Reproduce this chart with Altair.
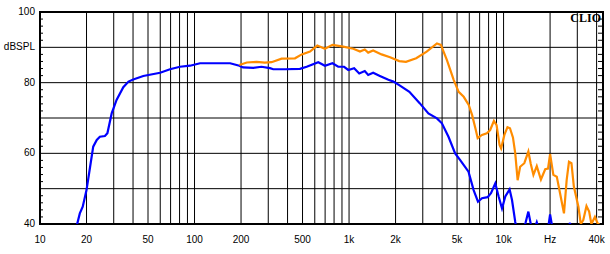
import altair as alt
import pandas as pd

# ---- data ----
blue_freq = [17.0, 17.4, 18.1, 18.9, 20, 21.1, 22.1, 23.3, 24.4, 26.3, 27.3, 29.1, 31.3, 34.6, 37.4,
             40.1, 46.6, 59.9, 69.4, 80.5, 93.5, 108.6, 170, 195, 206, 240, 271, 308, 323, 386,
             481, 532, 632, 698, 781, 851, 929, 989, 1079, 1164, 1264, 1330, 1432, 1583, 1797,
             1937, 2112, 2457, 2865, 3262, 3705, 3990, 4400, 4860, 5240, 5930, 6400, 6830, 7250,
             7880, 8290, 8840, 9290, 9770, 10260, 10940, 11340, 11900, 12300, 13300, 13900,
             14470, 15000, 15600, 16100, 16400, 16800, 17600, 19200, 19600, 20000, 20500, 21200,
             25500, 26900, 27800, 30000, 44000]
blue_db = [36, 40, 43.0, 44.9, 49.6, 56.2, 61.9, 63.8, 64.7, 64.9, 65.7, 71.3, 75.1, 78.7, 80.3,
           80.9, 81.9, 82.8, 83.8, 84.5, 84.8, 85.5, 85.5, 84.8, 84.3, 84.2, 84.5, 84.1, 83.8, 83.8,
           83.9, 84.5, 85.8, 84.8, 85.5, 84.5, 84.5, 83.6, 84.1, 82.6, 83.3, 82.2, 82.8, 81.9, 80.8,
           80.3, 79.3, 77.4, 74.2, 71.3, 69.9, 68.5, 64.7, 60.0, 58.1, 54.8, 49.6, 46.3, 47.3,
           47.6, 48.7, 51.5, 47.8, 44.4, 47.8, 49.8, 46.8, 40.6, 37, 37.5, 40.5,
           43.5, 40, 37, 39.5, 40.5, 39, 36, 37, 40, 42.7, 40, 36,
           37, 40.3, 37, 34, 34]

orange_freq = [195, 218, 252, 285, 315, 366, 447, 494, 559, 623, 698, 781, 916, 1066, 1177, 1264,
               1330, 1432, 1623, 1843, 2112, 2335, 2720, 3180, 3705, 3930, 4300, 4755, 5120, 5520,
               5950, 6260, 6570, 6800, 7250, 7790, 8190, 8660, 9010, 9420, 9640, 10120, 10600,
               11000, 11500, 11900, 12330, 12800, 13620, 14470, 15000, 15600, 16400, 17450, 18600,
               19400, 20000, 21000, 22100, 23200, 24600, 25600, 26500, 27500, 28500, 30500, 31600,
               32800, 34400, 35800, 37000, 39000, 40600, 44000]
orange_db = [85.0, 85.7, 85.9, 85.7, 85.8, 86.8, 86.9, 88.0, 88.8, 90.5, 89.6, 90.7, 90.2, 89.6, 88.8, 89.4,
             88.5, 89.1, 88.0, 87.2, 86.1, 85.9, 86.9, 88.8, 91.1, 90.7, 86.4, 80.8, 77.4, 76.0,
             73.7, 70.8, 67.1, 64.3, 65.2, 65.7, 66.6, 69.2, 68.0, 62.4, 61.4, 65.2, 67.4,
             67.1, 64.5, 60.0, 52.4, 56.2, 57.2, 60.5, 57, 53.9, 56.4, 52.6, 55.5,
             55.7, 59.8, 53.9, 53.4, 48.7, 43.0, 52.4, 57.6, 57.2, 50.6, 44.9, 40.0,
             41.1, 45.1, 43.5, 40.0, 42.0, 40.2, 39]

grid_freqs = [20, 30, 40, 50, 60, 70, 80, 90, 100, 200, 300, 400, 500, 600, 700, 800, 900,
              1000, 2000, 3000, 4000, 5000, 6000, 7000, 8000, 9000, 10000, 20000, 30000, 40000]
grid_db = [50, 60, 70, 80, 90]
minor_db = [42, 44, 46, 48, 52, 54, 56, 58, 62, 64, 66, 68, 72, 74, 76, 78, 82, 84, 86, 88,
            92, 94, 96, 98]
x_label_vals = [10, 20, 50, 100, 200, 500, 1000, 2000, 5000, 10000, 20000, 40000]
x_label_txt = ["10", "20", "50", "100", "200", "500", "1k", "2k", "5k", "10k", "Hz", "40k"]
y_label_vals = [100, 90, 80, 60, 40]
y_label_txt = ["100", "dBSPL", "80", "60", "40"]

W, H = 563, 212
xs = alt.Scale(type="log", domain=[10, 44000], nice=False)
ys = alt.Scale(domain=[40, 100], nice=False, zero=False)
FONT = "Liberation Sans"

blue_df = pd.DataFrame({"f": blue_freq, "db": blue_db})
orange_df = pd.DataFrame({"f": orange_freq, "db": orange_db})
vgrid_df = pd.DataFrame({"f": grid_freqs})
hgrid_df = pd.DataFrame({"db": grid_db})
minor_df = pd.DataFrame({"db": minor_db})
xlab_df = pd.DataFrame({"f": x_label_vals, "t": x_label_txt})
ylab_df = pd.DataFrame({"db": y_label_vals, "t": y_label_txt})

noax = dict(axis=None)

vgrid = alt.Chart(vgrid_df).mark_rule(color="black", strokeWidth=1).encode(
    x=alt.X("f:Q", scale=xs, **noax))
hgrid = alt.Chart(hgrid_df).mark_rule(color="black", strokeWidth=1).encode(
    y=alt.Y("db:Q", scale=ys, **noax))
lticks = alt.Chart(minor_df).mark_rule(color="black", strokeWidth=1).encode(
    y=alt.Y("db:Q", scale=ys, **noax), x=alt.value(0), x2=alt.value(3))
rticks = alt.Chart(minor_df).mark_rule(color="black", strokeWidth=1).encode(
    y=alt.Y("db:Q", scale=ys, **noax), x=alt.value(W - 5), x2=alt.value(W))

blue = alt.Chart(blue_df).mark_line(color="#0000ff", strokeWidth=2.2, clip=True).encode(
    x=alt.X("f:Q", scale=xs, **noax), y=alt.Y("db:Q", scale=ys, **noax))
orange = alt.Chart(orange_df).mark_line(color="#ff8c00", strokeWidth=2.2, clip=True).encode(
    x=alt.X("f:Q", scale=xs, **noax), y=alt.Y("db:Q", scale=ys, **noax))

xlab = alt.Chart(xlab_df).mark_text(font=FONT, fontSize=10, color="black",
                                    align="center", baseline="middle").encode(
    x=alt.X("f:Q", scale=xs, **noax), y=alt.value(228), text="t:N")
ylab = alt.Chart(ylab_df).mark_text(font=FONT, fontSize=10, color="black",
                                    align="right", baseline="middle").encode(
    y=alt.Y("db:Q", scale=ys, **noax), x=alt.value(-5), text="t:N")
clio = alt.Chart(pd.DataFrame({"t": ["CLIO"]})).mark_text(
    font="Liberation Serif", fontSize=12, fontWeight="bold", color="black",
    align="right", baseline="middle").encode(
    x=alt.value(W - 2), y=alt.value(6), text="t:N")

chart = alt.layer(vgrid, hgrid, lticks, rticks, blue, orange, xlab, ylab, clio).properties(
    width=W, height=H,
    padding={"left": 40, "top": 12, "right": 7, "bottom": 30},
    autosize=alt.AutoSizeParams(type="none"),
    background="white",
).configure_view(stroke="black", strokeWidth=2)

chart.save("out.html", embed_options={"renderer": "svg", "actions": False})
